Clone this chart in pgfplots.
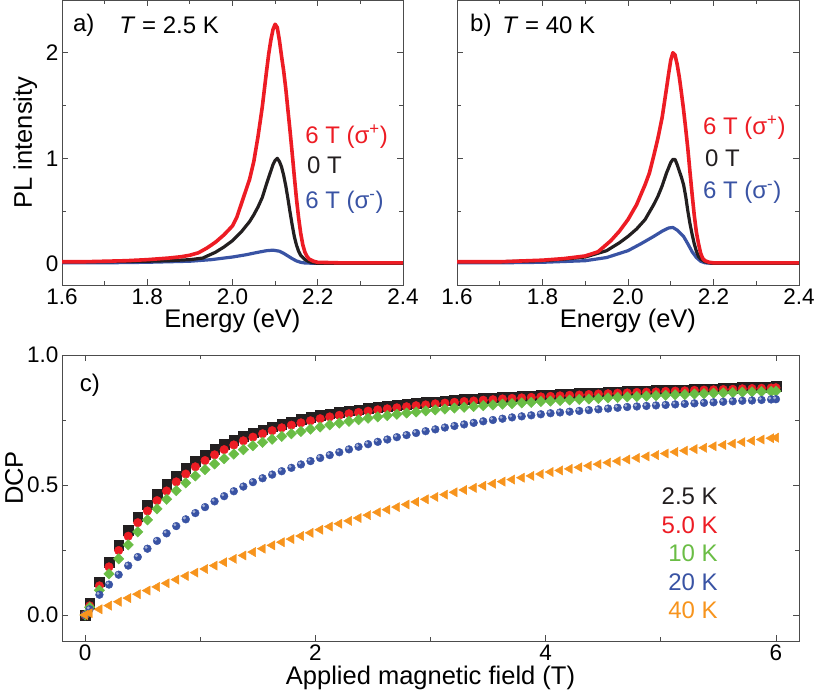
\documentclass[border=0pt]{standalone}
\usepackage{fontspec}
\setmainfont{Liberation Sans}
\usepackage{pgfplots}
\pgfplotsset{compat=1.18}
\usepackage{pgfplotstable}

\definecolor{cred}{RGB}{237,28,36}
\definecolor{cblue}{RGB}{57,83,164}
\definecolor{cgreen}{RGB}{106,189,69}
\definecolor{corange}{RGB}{247,148,29}
\definecolor{cblack}{RGB}{35,31,32}

\pgfdeclareplotmark{blueball}{%
  \fill[cblue] (0pt,0pt) circle (\pgfplotmarksize);
  \fill[cblue!45!white] (-0.35\pgfplotmarksize,0.35\pgfplotmarksize) circle (0.32\pgfplotmarksize);}

% ---------- panel a (2.5 K) ----------
\pgfplotstableread{
E I
1.60 0.020
1.65 0.020
1.70 0.025
1.75 0.030
1.80 0.040
1.85 0.055
1.88 0.068
1.90 0.082
1.92 0.105
1.94 0.150
1.96 0.205
1.98 0.275
2.00 0.360
2.01 0.440
2.02 0.560
2.03 0.680
2.04 0.800
2.05 0.970
2.06 1.210
2.07 1.490
2.08 1.830
2.085 1.990
2.09 2.120
2.095 2.220
2.10 2.270
2.105 2.240
2.11 2.120
2.115 1.970
2.12 1.830
2.125 1.660
2.13 1.460
2.135 1.260
2.14 1.050
2.145 0.830
2.15 0.620
2.155 0.440
2.16 0.290
2.165 0.180
2.17 0.110
2.175 0.070
2.18 0.045
2.19 0.025
2.20 0.015
2.25 0.010
2.30 0.010
2.40 0.010
}\redA

\pgfplotstableread{
E I
1.60 0.020
1.70 0.020
1.80 0.025
1.85 0.030
1.90 0.040
1.93 0.055
1.96 0.110
1.98 0.160
2.00 0.220
2.02 0.300
2.04 0.400
2.05 0.465
2.06 0.540
2.07 0.630
2.08 0.760
2.09 0.880
2.095 0.940
2.10 0.980
2.105 1.000
2.11 0.970
2.115 0.920
2.12 0.840
2.125 0.740
2.13 0.620
2.135 0.490
2.14 0.370
2.145 0.260
2.15 0.180
2.155 0.120
2.16 0.080
2.17 0.040
2.18 0.020
2.19 0.010
2.20 0.005
2.30 0.005
2.40 0.005
}\blackA

\pgfplotstableread{
E I
1.60 0.010
1.70 0.010
1.80 0.015
1.90 0.025
1.95 0.040
2.00 0.065
2.03 0.085
2.06 0.110
2.08 0.125
2.095 0.130
2.11 0.120
2.12 0.100
2.13 0.075
2.14 0.050
2.15 0.028
2.16 0.015
2.17 0.008
2.20 0.005
2.40 0.005
}\blueA

% ---------- panel b (40 K) ----------
\pgfplotstableread{
E I
1.60 0.020
1.70 0.020
1.80 0.035
1.85 0.050
1.90 0.075
1.93 0.115
1.96 0.220
1.98 0.310
2.00 0.420
2.02 0.560
2.04 0.750
2.05 0.860
2.06 1.020
2.07 1.190
2.08 1.390
2.09 1.660
2.095 1.800
2.10 1.930
2.105 2.000
2.11 1.980
2.115 1.890
2.12 1.770
2.125 1.620
2.13 1.460
2.135 1.280
2.14 1.090
2.145 0.870
2.15 0.660
2.155 0.460
2.16 0.300
2.165 0.190
2.17 0.100
2.175 0.050
2.18 0.030
2.19 0.015
2.20 0.010
2.40 0.010
}\redB

\pgfplotstableread{
E I
1.60 0.020
1.70 0.020
1.80 0.030
1.85 0.045
1.90 0.065
1.95 0.125
1.98 0.200
2.00 0.260
2.02 0.330
2.04 0.420
2.06 0.560
2.07 0.640
2.08 0.740
2.09 0.860
2.10 0.960
2.105 0.990
2.11 0.990
2.115 0.940
2.12 0.880
2.125 0.820
2.13 0.750
2.135 0.640
2.14 0.500
2.145 0.380
2.15 0.280
2.155 0.190
2.16 0.120
2.165 0.070
2.17 0.045
2.18 0.020
2.19 0.010
2.20 0.005
2.40 0.005
}\blackB

\pgfplotstableread{
E I
1.60 0.010
1.70 0.010
1.80 0.015
1.90 0.030
1.95 0.060
2.00 0.125
2.03 0.190
2.06 0.260
2.08 0.310
2.095 0.340
2.105 0.345
2.115 0.320
2.125 0.280
2.13 0.260
2.14 0.190
2.15 0.115
2.16 0.060
2.17 0.025
2.18 0.010
2.20 0.005
2.40 0.005
}\blueB

% ---------- panel c: DCP vs field ----------
\pgfplotstableread{
B k25 k50 k10 k20 k40
0.000 0.000 0.000 0.000 0.000 0.000
0.040 0.045 0.035 0.030 0.022 0.007
0.125 0.128 0.112 0.095 0.078 0.022
0.208 0.204 0.185 0.158 0.117 0.036
0.292 0.268 0.248 0.216 0.155 0.051
0.375 0.326 0.303 0.270 0.190 0.065
0.458 0.378 0.355 0.320 0.223 0.080
0.542 0.424 0.400 0.366 0.255 0.094
0.625 0.465 0.440 0.408 0.285 0.108
0.708 0.502 0.477 0.445 0.314 0.122
0.792 0.535 0.512 0.478 0.342 0.136
0.875 0.565 0.542 0.508 0.368 0.150
0.958 0.592 0.570 0.535 0.392 0.163
1.042 0.616 0.594 0.559 0.415 0.177
1.125 0.637 0.616 0.581 0.437 0.190
1.208 0.656 0.636 0.601 0.457 0.203
1.292 0.673 0.654 0.619 0.476 0.216
1.375 0.688 0.670 0.636 0.494 0.229
1.458 0.701 0.684 0.651 0.511 0.242
1.542 0.713 0.697 0.664 0.526 0.255
1.625 0.724 0.709 0.676 0.540 0.268
1.708 0.734 0.720 0.687 0.553 0.280
1.792 0.744 0.730 0.697 0.566 0.292
1.875 0.753 0.739 0.706 0.579 0.304
1.958 0.761 0.747 0.715 0.592 0.316
2.042 0.768 0.755 0.723 0.604 0.328
2.125 0.774 0.762 0.731 0.615 0.340
2.208 0.780 0.768 0.738 0.626 0.351
2.292 0.785 0.774 0.745 0.637 0.362
2.375 0.790 0.779 0.751 0.647 0.373
2.458 0.795 0.784 0.757 0.657 0.384
2.542 0.799 0.789 0.762 0.666 0.395
2.625 0.803 0.793 0.767 0.675 0.405
2.708 0.807 0.797 0.772 0.684 0.415
2.792 0.811 0.801 0.777 0.692 0.425
2.875 0.815 0.805 0.781 0.700 0.435
2.958 0.818 0.808 0.785 0.707 0.445
3.042 0.821 0.812 0.789 0.714 0.454
3.125 0.824 0.815 0.792 0.721 0.463
3.208 0.827 0.818 0.796 0.727 0.472
3.292 0.829 0.821 0.799 0.733 0.481
3.375 0.832 0.823 0.802 0.739 0.489
3.458 0.834 0.826 0.805 0.745 0.497
3.542 0.836 0.828 0.808 0.750 0.505
3.625 0.838 0.831 0.811 0.755 0.513
3.708 0.840 0.833 0.813 0.760 0.521
3.792 0.842 0.835 0.816 0.764 0.528
3.875 0.844 0.837 0.818 0.768 0.535
3.958 0.846 0.839 0.821 0.772 0.542
4.042 0.848 0.841 0.823 0.776 0.550
4.125 0.849 0.843 0.825 0.779 0.556
4.208 0.851 0.845 0.827 0.782 0.562
4.292 0.852 0.846 0.829 0.785 0.568
4.375 0.854 0.848 0.831 0.788 0.574
4.458 0.855 0.850 0.833 0.791 0.580
4.542 0.857 0.851 0.835 0.794 0.586
4.625 0.858 0.853 0.837 0.797 0.592
4.708 0.860 0.854 0.839 0.800 0.598
4.792 0.861 0.856 0.840 0.802 0.604
4.875 0.862 0.857 0.842 0.804 0.610
4.958 0.864 0.858 0.844 0.806 0.615
5.042 0.865 0.860 0.845 0.808 0.621
5.125 0.866 0.861 0.847 0.810 0.627
5.208 0.867 0.862 0.848 0.812 0.632
5.292 0.869 0.864 0.850 0.814 0.638
5.375 0.870 0.865 0.851 0.816 0.643
5.458 0.871 0.866 0.853 0.818 0.649
5.542 0.872 0.867 0.854 0.820 0.654
5.625 0.873 0.868 0.855 0.822 0.659
5.708 0.875 0.870 0.857 0.824 0.665
5.792 0.876 0.871 0.858 0.825 0.670
5.875 0.877 0.872 0.859 0.827 0.675
5.958 0.878 0.873 0.860 0.829 0.680
6.000 0.879 0.874 0.861 0.830 0.682
}\dcp

\tikzset{ann/.style={font=\fontsize{24}{24}\selectfont, inner sep=0pt, anchor=west}}

\pgfplotsset{
  base/.style={
    scale only axis,
    axis line style={draw=black!70, line width=0.9pt},
    every tick/.style={draw=black!70, line width=0.9pt},
    major tick length=6pt, minor tick length=4pt,
    tick align=inside,
    tick label style={font=\fontsize{22.5}{22.5}\selectfont},
    label style={font=\fontsize{25.5}{25.5}\selectfont},
    /pgf/number format/assume math mode=true,
  },
  spec/.style={
    base,
    xmin=1.6, xmax=2.4, ymin=-0.2, ymax=2.5,
    xtick={1.6,1.8,2.0,2.2,2.4},
    minor xtick={1.7,1.9,2.1,2.3},
    ytick={0,1,2}, minor ytick={0.5,1.5},
    xticklabel style={/pgf/number format/.cd, fixed, fixed zerofill, precision=1},
    xlabel={Energy (eV)},
    xlabel style={at={(axis description cs:0.5,-0.126)}, anchor=center},
  },
}

\begin{document}
\begin{tikzpicture}
\useasboundingbox (0,0) rectangle (815pt,695pt);

% ---- a ----
\begin{axis}[spec, at={(62pt,410pt)}, anchor=south west, width=341pt, height=285pt,
  ylabel={PL intensity},
  ylabel style={at={(axis description cs:-0.108,0.5)}, anchor=center}]
\addplot[cblue, line width=3.2pt, line join=round] table[x=E,y=I] {\blueA};
\addplot[cblack, line width=3.2pt, line join=round] table[x=E,y=I] {\blackA};
\addplot[cred, line width=3.6pt, line join=round] table[x=E,y=I] {\redA};
\node[ann] at (rel axis cs:0.032,0.91) {a)};
\node[ann] at (rel axis cs:0.168,0.91) {\textit{T} = 2.5 K};
\node[ann, text=cred] at (rel axis cs:0.713,0.519) {6 T (σ\textsuperscript{+})};
\node[ann, text=cblack] at (rel axis cs:0.718,0.421) {0 T};
\node[ann, text=cblue] at (rel axis cs:0.713,0.291) {6 T (σ\textsuperscript{-})};
\end{axis}

% ---- b ----
\begin{axis}[spec, at={(457pt,410pt)}, anchor=south west, width=342pt, height=285pt,
  yticklabels={}]
\addplot[cblue, line width=3.2pt, line join=round] table[x=E,y=I] {\blueB};
\addplot[cblack, line width=3.2pt, line join=round] table[x=E,y=I] {\blackB};
\addplot[cred, line width=3.6pt, line join=round] table[x=E,y=I] {\redB};
\node[ann] at (rel axis cs:0.038,0.91) {b)};
\node[ann] at (rel axis cs:0.132,0.91) {\textit{T} = 40 K};
\node[ann, text=cred] at (rel axis cs:0.719,0.551) {6 T (σ\textsuperscript{+})};
\node[ann, text=cblack] at (rel axis cs:0.725,0.446) {0 T};
\node[ann, text=cblue] at (rel axis cs:0.719,0.326) {6 T (σ\textsuperscript{-})};
\end{axis}

% ---- c ----
\begin{axis}[base, at={(62pt,54pt)}, anchor=south west, width=737pt, height=286pt,
  xmin=-0.2, xmax=6.2, ymin=-0.1, ymax=1.0,
  xtick={0,2,4,6}, minor xtick={1,3,5},
  ytick={0,0.5,1.0}, minor ytick={0.25,0.75},
  yticklabel style={/pgf/number format/.cd, fixed, fixed zerofill, precision=1},
  xlabel={Applied magnetic field (T)},
  xlabel style={at={(axis description cs:0.5,-0.129)}, anchor=center},
  ylabel={DCP},
  ylabel style={at={(axis description cs:-0.065,0.57)}, anchor=center}]
\addplot[only marks, mark=square*, mark size=4.8pt, mark options={fill=cblack, draw=cblack}] table[x=B,y=k25] {\dcp};
\addplot[only marks, mark=*, mark size=4.3pt, mark options={fill=cred, draw=cred}] table[x=B,y=k50] {\dcp};
\addplot[only marks, mark=square*, mark size=3.7pt, mark options={fill=cgreen, draw=cgreen, rotate=45}] table[x=B,y=k10] {\dcp};
\addplot[only marks, mark=blueball, mark size=3.9pt] table[x=B,y=k20] {\dcp};
\addplot[only marks, mark=triangle*, mark size=5.3pt, mark options={fill=corange, draw=corange, rotate=90}] table[x=B,y=k40] {\dcp};
\node[ann] at (rel axis cs:0.024,0.895) {c)};
\node[ann, anchor=east, text=cblack] at (rel axis cs:0.89,0.507) {2.5 K};
\node[ann, anchor=east, text=cred] at (rel axis cs:0.89,0.406) {5.0 K};
\node[ann, anchor=east, text=cgreen] at (rel axis cs:0.89,0.308) {10 K};
\node[ann, anchor=east, text=cblue] at (rel axis cs:0.89,0.206) {20 K};
\node[ann, anchor=east, text=corange] at (rel axis cs:0.89,0.108) {40 K};
\end{axis}
\end{tikzpicture}
\end{document}
